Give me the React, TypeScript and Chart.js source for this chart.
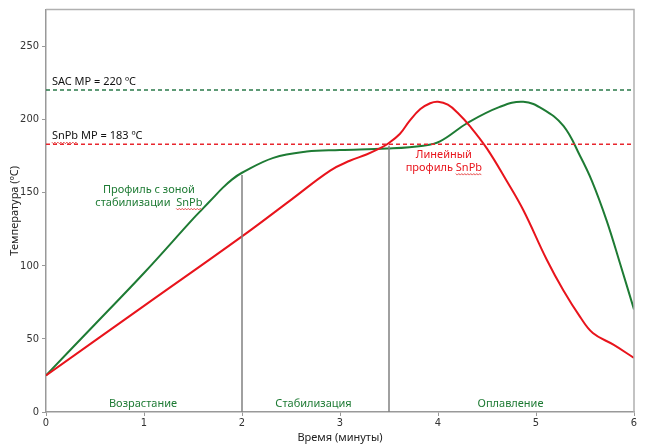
import React, { useEffect, useRef } from 'react';
import { Chart, registerables } from 'chart.js';
Chart.register(...registerables);

// Soak profile (green)
const soakTimes = [0, 0.5, 1.0, 1.5, 1.6, 1.7, 1.8, 1.9, 2.0, 2.32, 2.66, 3.0, 3.48, 3.85, 4.02, 4.3, 4.63, 4.87, 5.07, 5.28, 5.45, 5.57, 5.72, 5.86, 6.0];
const soakTemps = [25, 60, 95, 132, 139, 146, 153, 159, 163.5, 173.7, 178, 179, 180, 182, 185, 197.5, 208.5, 212, 207, 195.5, 175, 158, 131, 101, 70];

// Linear profile (red)
const linearTimes = [0, 1, 2, 2.5, 2.9, 3.1, 3.27, 3.41, 3.48, 3.61, 3.71, 3.82, 3.92, 4.0, 4.1, 4.2, 4.33, 4.5, 4.7, 4.87, 5.11, 5.28, 5.45, 5.58, 5.79, 6.0];
const linearTemps = [25, 72.5, 120, 145, 165, 171.7, 176, 180.3, 183, 190, 199, 207, 211, 212, 210, 204.5, 195, 180, 158, 138, 104, 83, 65, 54, 46, 37];

// Melting points
const sacMP = 220;
const snpbMP = 183;

// Zone dividers: time and top temperature
const dividerTimes = [2, 3.5];
const dividerTops = [162, 182];

// Axis ticks
const xTicks = [0, 1, 2, 3, 4, 5, 6];
const yTicks = [0, 50, 100, 150, 200, 250];

const GREEN = '#1e7b34';
const RED = '#e8141c';
const GREEN_DASH = '#2a7a4a';
const RED_DASH = '#e8262e';
const GRAY = '#808080';

const TEXT_FONT = '"Noto Sans", "DejaVu Sans", sans-serif';
const TICK_FONT = '"Liberation Sans Narrow", "DejaVu Sans Condensed", "Liberation Sans", sans-serif';

type Label = { lines: string[]; x: number; y: number; color: string; align: CanvasTextAlign; wavy?: string };
const labels: Label[] = [
  { lines: ['SAC MP = 220 ºC'], x: 0.06, y: 225.5, color: '#111', align: 'left' },
  { lines: ['SnPb MP = 183 ºC'], x: 0.06, y: 188.5, color: '#111', align: 'left', wavy: 'SnPb' },
  { lines: ['Профиль с зоной', 'стабилизации  SnPb'], x: 1.05, y: 147.5, color: GREEN, align: 'center', wavy: 'SnPb' },
  { lines: ['Линейный', 'профиль SnPb'], x: 4.06, y: 171.3, color: RED, align: 'center', wavy: 'SnPb' },
  { lines: ['Возрастание'], x: 0.99, y: 5.5, color: GREEN, align: 'center' },
  { lines: ['Стабилизация'], x: 2.73, y: 5.5, color: GREEN, align: 'center' },
  { lines: ['Оплавление'], x: 4.74, y: 5.5, color: GREEN, align: 'center' },
];

const zip = (xs: number[], ys: number[]) => xs.map((x, i) => ({ x, y: ys[i] }));

const textPlugin = {
  id: 'textLabels',
  afterDatasetsDraw(chart: any) {
    const { ctx, scales, chartArea } = chart;
    ctx.save();
    // frame top & right
    ctx.strokeStyle = '#b0b0b0';
    ctx.lineWidth = 1.5;
    ctx.beginPath();
    ctx.moveTo(chartArea.left, chartArea.top);
    ctx.lineTo(chartArea.right, chartArea.top);
    ctx.lineTo(chartArea.right, chartArea.bottom);
    ctx.stroke();

    ctx.font = `11px ${TEXT_FONT}`;
    ctx.textBaseline = 'middle';
    const lh = 12.5;
    labels.forEach((lb) => {
      const px = scales.x.getPixelForValue(lb.x);
      const py = scales.y.getPixelForValue(lb.y);
      ctx.fillStyle = lb.color;
      ctx.textAlign = lb.align;
      lb.lines.forEach((line, i) => {
        const y = py + i * lh - ((lb.lines.length - 1) * lh) / 2;
        ctx.fillText(line, px, y);
        if (lb.wavy) {
          const idx = line.lastIndexOf(lb.wavy);
          if (idx >= 0) {
            const full = ctx.measureText(line).width;
            const start = lb.align === 'center' ? px - full / 2 : px;
            const x0 = start + ctx.measureText(line.slice(0, idx)).width;
            const w = ctx.measureText(lb.wavy).width;
            ctx.save();
            ctx.strokeStyle = '#e02020';
            ctx.lineWidth = 0.8;
            ctx.beginPath();
            let k = 0;
            for (let xx = x0; xx <= x0 + w; xx += 1.5, k++) {
              const yy = y + 6 + (k % 2 === 0 ? 0 : 1.5);
              if (k === 0) ctx.moveTo(xx, yy); else ctx.lineTo(xx, yy);
            }
            ctx.stroke();
            ctx.restore();
          }
        }
      });
    });
    ctx.restore();
  },
};

export default function App() {
  const ref = useRef<HTMLCanvasElement | null>(null);
  useEffect(() => {
    if (!ref.current) return;
    const datasets: any[] = [
      {
        data: zip([0, 6], [sacMP, sacMP]),
        borderColor: GREEN_DASH, borderWidth: 1.5, borderDash: [4, 3], pointRadius: 0,
      },
      {
        data: zip([0, 6], [snpbMP, snpbMP]),
        borderColor: RED_DASH, borderWidth: 1.5, borderDash: [4, 3], pointRadius: 0,
      },
      ...dividerTimes.map((t, i) => ({
        data: zip([t, t], [0, dividerTops[i]]),
        borderColor: GRAY, borderWidth: 1.5, pointRadius: 0,
      })),
      {
        data: zip(linearTimes, linearTemps),
        borderColor: RED, borderWidth: 2, pointRadius: 0, tension: 0.4,
      },
      {
        data: zip(soakTimes, soakTemps),
        borderColor: GREEN, borderWidth: 2, pointRadius: 0, tension: 0.4,
      },
    ];
    const chart = new Chart(ref.current, {
      type: 'line',
      data: { datasets },
      plugins: [textPlugin],
      options: {
        animation: false,
        responsive: false,
        layout: { padding: { top: 8, right: 11, left: 0, bottom: 0 } },
        plugins: { legend: { display: false }, tooltip: { enabled: false } },
        scales: {
          x: {
            type: 'linear', min: 0, max: 6,
            afterFit: (s: any) => { s.height = 35; },
            afterBuildTicks: (s: any) => { s.ticks = xTicks.map((v) => ({ value: v })); },
            grid: { drawOnChartArea: false, drawTicks: true, tickLength: 4, color: '#999' },
            border: { color: '#999', width: 1.5 },
            ticks: { color: '#333', font: { family: TICK_FONT, size: 11 }, padding: 1, maxRotation: 0 },
            title: { display: true, text: 'Время (минуты)', color: '#222', font: { family: TEXT_FONT, size: 11 }, padding: { top: 0, bottom: 3 } },
          },
          y: {
            type: 'linear', min: 0, max: 275,
            afterFit: (s: any) => { s.width = 46; },
            afterBuildTicks: (s: any) => { s.ticks = yTicks.map((v) => ({ value: v })); },
            grid: { drawOnChartArea: false, drawTicks: true, tickLength: 4, color: '#999' },
            border: { color: '#999', width: 1.5 },
            ticks: { color: '#333', font: { family: TICK_FONT, size: 11 }, padding: 3 },
            title: { display: true, text: 'Температура (ºC)', color: '#222', font: { family: TEXT_FONT, size: 11 }, padding: { top: 8, bottom: 0 } },
          },
        },
      } as any,
    });
    return () => chart.destroy();
  }, []);
  return (
    <div style={{ position: 'absolute', left: 0, top: 0, width: 645, height: 447, background: '#fff' }}>
      <canvas ref={ref} width={645} height={447} />
    </div>
  );
}
